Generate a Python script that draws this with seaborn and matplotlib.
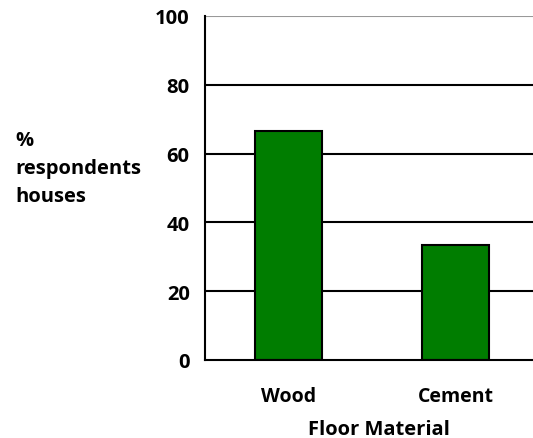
import matplotlib
matplotlib.use("Agg")
import matplotlib.pyplot as plt
import seaborn as sns
import pandas as pd

materials = ["Wood", "Cement"]
percent_houses = [66.7, 33.3]
y_ticks = [0, 20, 40, 60, 80, 100]

sns.set_style("white")
plt.rcParams["font.family"] = ["Open Sans", "DejaVu Sans"]
plt.rcParams["font.weight"] = "bold"
for key in ["text.color", "axes.labelcolor", "xtick.color", "ytick.color"]:
    plt.rcParams[key] = "black"

df = pd.DataFrame({"material": materials, "percent": percent_houses})

fig = plt.figure(figsize=(5.33, 4.39), dpi=100)
ax = fig.add_axes([205 / 533, 1 - 361 / 439, 334 / 533, 344 / 439])

sns.barplot(data=df, x="material", y="percent", color="#007D00",
            saturation=1, width=0.4, edgecolor="black", linewidth=1.5, ax=ax)

ax.set_ylim(0, 100)
ax.set_xlim(-0.5, 1.5)
ax.set_yticks(y_ticks)
ax.set_yticklabels([str(t) for t in y_ticks], fontsize=14.5, fontweight="bold")
for t in y_ticks[1:-1]:
    ax.axhline(t, color="black", linewidth=1.5, zorder=0)
ax.axhline(100, color="#999999", linewidth=1.5, zorder=0)

ax.set_xticks([0, 1])
ax.set_xticklabels(materials, fontsize=14, fontweight="bold")
ax.tick_params(axis="x", length=0, pad=19)
ax.tick_params(axis="y", length=4.5, width=1.5, color="black", direction="out", pad=6.5)
ax.set_xticks([-0.5, 0.5], minor=True)
ax.tick_params(axis="x", which="minor", length=4.5, width=1.5, color="black", direction="out")

for side in ["top", "right"]:
    ax.spines[side].set_visible(False)
for side in ["left", "bottom"]:
    ax.spines[side].set_color("black")
    ax.spines[side].set_linewidth(1.5)

ax.set_xlabel("Floor Material", fontsize=14.5, fontweight="bold")
ax.xaxis.set_label_coords((379 - 205) / 334, (361 - 430) / 344)
ax.xaxis.label.set_verticalalignment("center")
ax.set_ylabel("")
fig.text(15 / 533, 1 - 169 / 439, "%\nrespondents\nhouses", fontsize=14.5,
         fontweight="bold", ha="left", va="center", linespacing=1.55)

fig.savefig("out.png", dpi=100)
